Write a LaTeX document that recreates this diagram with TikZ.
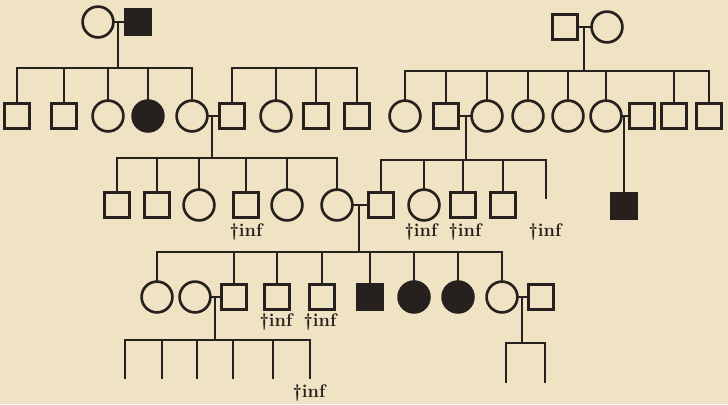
\documentclass[tikz,border=0pt]{standalone}
\usepackage{tikz}
\usetikzlibrary{calc}
\definecolor{paper}{RGB}{240,227,195}
\definecolor{ink}{RGB}{38,33,30}

\begin{document}
\begin{tikzpicture}[
  x=0.025cm, y=-0.025cm,
  font=\fontsize{13}{14}\selectfont\bfseries,
  kin/.style={draw=ink, line width=1.9pt, line cap=rect},
  male/.style={rectangle, draw=ink, line width=1.9pt, minimum size=6.4mm, inner sep=0pt},
  female/.style={circle, draw=ink, line width=1.9pt, minimum size=7.7mm, inner sep=0pt},
  aff/.style={fill=ink},
  note/.style={text=ink, inner sep=0pt}
]
  \fill[paper] (0,0) rectangle (728,404);
  \useasboundingbox (0,0) rectangle (728,404);

  % generation I
  \node[female] (Ia) at (98,22) {};
  \node[male,aff] (Ib) at (138,22) {};
  \node[male] (Ic) at (565,27) {};
  \node[female] (Id) at (607,27) {};

  % generation II
  \node[male] (IIa) at (17,116) {};
  \node[male] (IIb) at (64,116) {};
  \node[female] (IIc) at (108,116) {};
  \node[female,aff] (IId) at (148,116) {};
  \node[female] (IIe) at (192,116) {};
  \node[male] (IIf) at (232,116) {};
  \node[female] (IIg) at (276,116) {};
  \node[male] (IIh) at (316,116) {};
  \node[male] (IIi) at (357,116) {};
  \node[female] (IIj) at (405,116) {};
  \node[male] (IIk) at (446,116) {};
  \node[female] (IIl) at (487,116) {};
  \node[female] (IIm) at (528,116) {};
  \node[female] (IIn) at (568,116) {};
  \node[female] (IIo) at (606,116) {};
  \node[male] (IIp) at (642,116) {};
  \node[male] (IIq) at (674,116) {};
  \node[male] (IIr) at (709,116) {};

  % generation III
  \node[male] (IIIa) at (117,205) {};
  \node[male] (IIIb) at (157,205) {};
  \node[female] (IIIc) at (199,205) {};
  \node[male] (IIId) at (246,205) {};
  \node[female] (IIIe) at (287,205) {};
  \node[female] (IIIf) at (337,205) {};
  \node[male] (IIIg) at (381,205) {};
  \node[female] (IIIh) at (424,205) {};
  \node[male] (IIIi) at (463,205) {};
  \node[male] (IIIj) at (503,205) {};
  \coordinate (e1) at (546,198);
  \node[male,aff] (IIIk) at (624,206) {};

  % generation IV
  \node[female] (IVa) at (157,297) {};
  \node[female] (IVb) at (195,297) {};
  \node[male] (IVc) at (234,297) {};
  \node[male] (IVd) at (277,297) {};
  \node[male] (IVe) at (322,297) {};
  \node[male,aff] (IVf) at (370,297) {};
  \node[female,aff] (IVg) at (414,297) {};
  \node[female,aff] (IVh) at (458,297) {};
  \node[female] (IVi) at (502,297) {};
  \node[male] (IVj) at (541,297) {};

  % generation V
  \coordinate (Va) at (125,378);
  \coordinate (Vb) at (162,378);
  \coordinate (Vc) at (197,378);
  \coordinate (Vd) at (233,378);
  \coordinate (Ve) at (273,378);
  \coordinate (Vf) at (310,378);
  \coordinate (Vg) at (506,382);
  \coordinate (Vh) at (545,382);

  % marriages and descent
  \coordinate (m1) at (118,22);  \coordinate (s1) at (118,68);
  \coordinate (s0) at (0,68);
  \coordinate (m2) at (584,27);  \coordinate (s2) at (584,71);
  \coordinate (m3) at (212,116); \coordinate (s3) at (212,158);
  \coordinate (m4) at (466,116); \coordinate (s4) at (466,160);
  \coordinate (m5) at (624,117);
  \coordinate (m6) at (359,205); \coordinate (s6) at (359,252);
  \coordinate (m7) at (215,297); \coordinate (s7) at (215,340);
  \coordinate (m8) at (522,297); \coordinate (s8) at (522,343);

  \draw[kin] (Ia) -- (Ib);
  \draw[kin] (m1) -- (s1);
  \draw[kin] (s1 -| IIa) -- (s1 -| IIe);
  \foreach \c in {IIa,IIb,IIc,IId,IIe} \draw[kin] (s1 -| \c) -- (\c);

  \draw[kin] (s0 -| IIf) -- (s0 -| IIi);
  \foreach \c in {IIf,IIg,IIh,IIi} \draw[kin] (s0 -| \c) -- (\c);

  \draw[kin] (Ic) -- (Id);
  \draw[kin] (m2) -- (s2);
  \draw[kin] (s2 -| IIj) -- (s2 -| IIr);
  \foreach \c in {IIj,IIk,IIl,IIm,IIn,IIo,IIq,IIr} \draw[kin] (s2 -| \c) -- (\c);

  \draw[kin] (IIe) -- (IIf);
  \draw[kin] (m3) -- (s3);
  \draw[kin] (s3 -| IIIa) -- (s3 -| IIIf);
  \foreach \c in {IIIa,IIIb,IIIc,IIId,IIIe,IIIf} \draw[kin] (s3 -| \c) -- (\c);

  \draw[kin] (IIk) -- (IIl);
  \draw[kin] (m4) -- (s4);
  \draw[kin] (s4 -| IIIg) -- (s4 -| e1);
  \foreach \c in {IIIg,IIIh,IIIi,IIIj,e1} \draw[kin] (s4 -| \c) -- (\c);

  \draw[kin] (IIo) -- (IIp);
  \draw[kin] (m5) -- (IIIk);

  \draw[kin] (IIIf) -- (IIIg);
  \draw[kin] (m6) -- (s6);
  \draw[kin] (s6 -| IVa) -- (s6 -| IVi);
  \foreach \c in {IVa,IVc,IVd,IVe,IVf,IVg,IVh,IVi} \draw[kin] (s6 -| \c) -- (\c);

  \draw[kin] (IVb) -- (IVc);
  \draw[kin] (m7) -- (s7);
  \draw[kin] (s7 -| Va) -- (s7 -| Vf);
  \foreach \c in {Va,Vb,Vc,Vd,Ve,Vf} \draw[kin] (s7 -| \c) -- (\c);

  \draw[kin] (IVi) -- (IVj);
  \draw[kin] (m8) -- (s8);
  \draw[kin] (s8 -| Vg) -- (s8 -| Vh);
  \foreach \c in {Vg,Vh} \draw[kin] (s8 -| \c) -- (\c);

  % infant deaths
  \node[note] (d1) at (246,232) {\dag inf};
  \node[note] (d2) at (421,232) {\dag inf};
  \node[note] (d3) at (465,232) {\dag inf};
  \node[note] (d4) at (545,232) {\dag inf};
  \node[note] (d5) at (276,322) {\dag inf};
  \node[note] (d6) at (320,322) {\dag inf};
  \node[note] (d7) at (309,393) {\dag inf};
\end{tikzpicture}
\end{document}
